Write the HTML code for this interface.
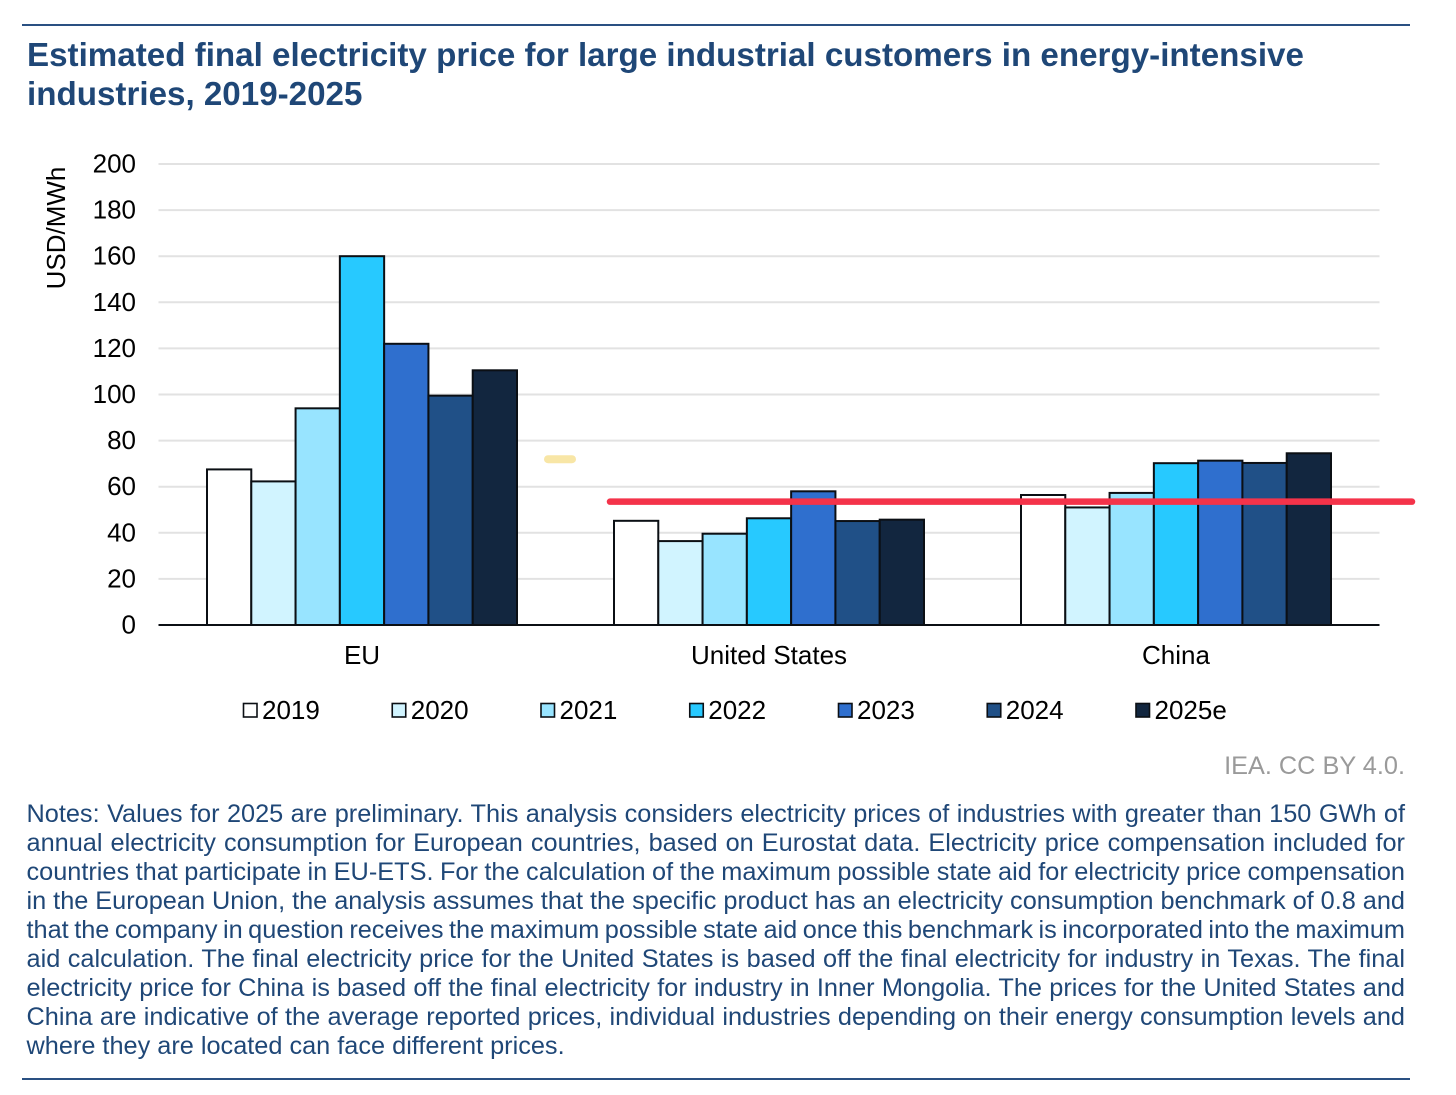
<!DOCTYPE html>
<html lang="en">
<head>
<meta charset="utf-8">
<title>Estimated final electricity price</title>
<style>
html,body{margin:0;padding:0;background:#fff;}
#page{position:relative;width:1456px;height:1095px;overflow:hidden;background:#fff;font-family:"Liberation Sans",sans-serif;}
.rule{position:absolute;left:22px;width:1388px;height:2px;background:#2a5082;}
#title{position:absolute;left:27px;top:36px;width:1400px;font-weight:bold;font-size:33.17px;line-height:39px;color:#1f4777;white-space:nowrap;}
#chart{position:absolute;left:0;top:0;}
#credit{position:absolute;right:51px;top:750px;font-size:25.3px;line-height:32px;color:#9a9a9a;white-space:nowrap;}
#notes{position:absolute;left:26.5px;top:800px;width:1378.5px;font-size:25.3px;line-height:29px;color:#1f4777;}
#notes div{text-align:justify;text-align-last:justify;height:29px;white-space:nowrap;word-spacing:-3px;}
#notes div:last-child{text-align-last:left;word-spacing:0;}
</style>
</head>
<body>
<div id="page">
  <div class="rule" style="top:24px"></div>
  <div id="title">Estimated final electricity price for large industrial customers in energy-intensive<br>industries, 2019-2025</div>
  <svg id="chart" width="1456" height="1095" viewBox="0 0 1456 1095" xmlns="http://www.w3.org/2000/svg"></svg>
  <div id="credit">IEA. CC BY 4.0.</div>
  <div id="notes">
    <div>Notes: Values for 2025 are preliminary. This analysis considers electricity prices of industries with greater than 150 GWh of</div>
    <div>annual electricity consumption for European countries, based on Eurostat data. Electricity price compensation included for</div>
    <div>countries that participate in EU-ETS. For the calculation of the maximum possible state aid for electricity price compensation</div>
    <div>in the European Union, the analysis assumes that the specific product has an electricity consumption benchmark of 0.8 and</div>
    <div>that the company in question receives the maximum possible state aid once this benchmark is incorporated into the maximum</div>
    <div>aid calculation. The final electricity price for the United States is based off the final electricity for industry in Texas. The final</div>
    <div>electricity price for China is based off the final electricity for industry in Inner Mongolia. The prices for the United States and</div>
    <div>China are indicative of the average reported prices, individual industries depending on their energy consumption levels and</div>
    <div>where they are located can face different prices.</div>
  </div>
  <div class="rule" style="top:1078px"></div>
</div>
<script>
const categories = ["EU", "United States", "China"];
const years = ["2019", "2020", "2021", "2022", "2023", "2024", "2025e"];
const series2019 = [67.5, 45.2, 56.4];
const series2020 = [62.3, 36.4, 51];
const series2021 = [94, 39.6, 57.3];
const series2022 = [160, 46.3, 70.2];
const series2023 = [122, 58, 71.3];
const series2024 = [99.5, 45.1, 70.3];
const series2025 = [110.5, 45.7, 74.5];
const seriesColors = ["#ffffff", "#d1f4ff", "#98e4ff", "#27c9ff", "#2f6fce", "#205087", "#12263f"];
const yTicks = [0, 20, 40, 60, 80, 100, 120, 140, 160, 180, 200];
const referenceLevel = [53.5];
const allSeries = [series2019, series2020, series2021, series2022, series2023, series2024, series2025];

const NS = "http://www.w3.org/2000/svg";
const svg = document.getElementById("chart");
const plot = {left: 158.5, right: 1379.5, top: 164, bottom: 625, yMax: 200, groupFill: 310 / 407};
function yScale(v) { return plot.bottom - (v / plot.yMax) * (plot.bottom - plot.top); }
function bandWidth() { return (plot.right - plot.left) / categories.length; }
function groupCenter(i) { return plot.left + bandWidth() * (i + 0.5); }
function barWidth() { return bandWidth() * plot.groupFill / allSeries.length; }
function barX(i, s) { return groupCenter(i) - barWidth() * allSeries.length / 2 + s * barWidth(); }
function make(tag, attrs, parent) {
  const el = document.createElementNS(NS, tag);
  for (const k in attrs) el.setAttribute(k, attrs[k]);
  parent.appendChild(el);
  return el;
}
const textStyle = {"font-family": '"Liberation Sans", sans-serif', "font-size": 26, fill: "#000"};

yTicks.forEach(function (t) {
  if (t !== 0) {
    const g = make("line", {x1: plot.left, x2: plot.right, y1: yScale(t), y2: yScale(t), stroke: "#e2e2e2", "stroke-width": 2}, svg);
    
    
  }
  const lab = make("text", Object.assign({x: 136, y: yScale(t) + 8.5, "text-anchor": "end"}, textStyle), svg);
  lab.textContent = t;
  
  
});

const yTitle = make("text", Object.assign({transform: "translate(65,228) rotate(-90)", "text-anchor": "middle"}, textStyle), svg);
yTitle.textContent = "USD/MWh";



categories.forEach(function (c, i) {
  allSeries.forEach(function (vals, s) {
    const y = yScale(vals[i]);
    const bar = make("rect", {x: barX(i, s), y: y, width: barWidth(), height: plot.bottom - y, fill: seriesColors[s], stroke: "#0b0f14", "stroke-width": 2}, svg);
    
    
  });
  const lab = make("text", Object.assign({x: groupCenter(i), y: 664, "text-anchor": "middle"}, textStyle), svg);
  lab.textContent = c;
  
  
});

const axis = make("line", {x1: plot.left, x2: plot.right, y1: plot.bottom, y2: plot.bottom, stroke: "#0b0f14", "stroke-width": 2}, svg);



years.forEach(function (yr, s) {
  const x0 = 243.5 + s * 148.75;
  const sw = make("rect", {x: x0, y: 703.5, width: 13.5, height: 13.5, fill: seriesColors[s], stroke: "#0b0f14", "stroke-width": 1.6}, svg);
  
  
  const tx = make("text", Object.assign({x: x0 + 18.5, y: 719}, textStyle), svg);
  tx.textContent = yr;
  
  
});

const marker = make("line", {x1: 548, x2: 572, y1: 459.2, y2: 459.2, stroke: "#f8e6a6", "stroke-width": 8, "stroke-linecap": "round"}, svg);



const refLine = make("line", {x1: 610, x2: 1412, y1: yScale(referenceLevel[0]), y2: yScale(referenceLevel[0]), stroke: "#f4334a", "stroke-width": 6.5, "stroke-linecap": "round"}, svg);


</script>
</body>
</html>
